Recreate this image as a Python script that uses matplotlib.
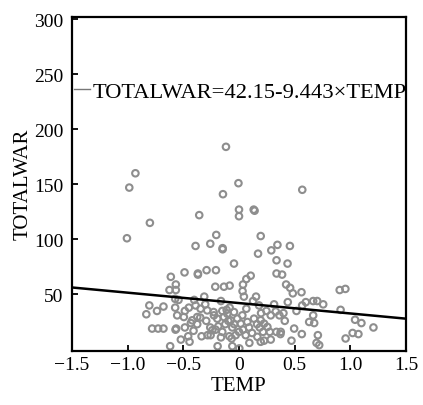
import matplotlib.pyplot as plt
from matplotlib.lines import Line2D

plt.rcParams["font.family"] = ["Liberation Serif", "DejaVu Serif"]

# scatter values
temp = [
    -0.117, -0.93, -0.985, -0.005, 0.568, -0.144, 0.0, 0.0, 0.132, 0.14,
    -0.357, -0.80, -1.006, 0.195, -0.204, -0.39, -0.258, -0.147, -0.147, 0.345,
    0.457, 0.29, 0.171, 0.337, -0.045, 0.436, -0.489, -0.369, -0.369, -0.291,
    -0.207, -0.612, 0.337, 0.387, 0.105, 0.066, 0.036, -0.213, -0.135, -0.084,
    -0.567, -0.624, -0.567, 0.423, 0.459, 0.483, 0.561, 0.032, 0.044, 0.904,
    0.955, -0.573, -0.543, -0.805, -0.678, -0.736, -0.832, -0.573, -0.486, -0.45,
    -0.402, -0.39, -0.312, -0.303, -0.228, -0.162, -0.15, -0.111, -0.084, -0.045,
    0.03, 0.066, 0.126, 0.153, 0.18, 0.198, 0.246, 0.315, 0.363, 0.399,
    0.438, 0.516, 0.567, 0.6, 0.666, 0.702, 0.756, 0.666, 0.63, 0.675,
    0.912, 1.042, 1.099, 1.207, -0.78, -0.726, -0.678, -0.564, -0.57, -0.486,
    -0.432, -0.408, -0.375, -0.348, -0.294, -0.258, -0.21, -0.186, -0.123, -0.096,
    -0.06, -0.042, 0.0, 0.036, 0.09, 0.117, 0.162, 0.186, 0.216, 0.276,
    0.336, 0.372, 0.411, 0.471, 0.564, 0.708, 0.696, 0.72, 0.957, 1.02,
    1.072, -0.456, -0.522, -0.618, -0.336, -0.282, -0.192, -0.162, -0.087, -0.066,
    -0.06, 0.003, 0.093, 0.225, 0.285, -0.444, -0.345, -0.285, -0.225, -0.195,
    -0.135, -0.105, -0.075, -0.015, 0.015, 0.075, 0.135, 0.195, 0.225, 0.255,
    0.285, 0.33, 0.375, 0.495, -0.375, -0.42, -0.24, -0.15, -0.03, 0.06,
    0.165, 0.195, -0.255, -0.555, -0.495,
]
totalwar = [
    184, 160, 147, 151, 145, 141, 127, 121, 127, 126,
    122, 115, 101, 103, 104, 94, 96, 92, 91, 95,
    94, 90, 87, 81, 78, 78, 70, 69, 68, 72,
    72, 66, 69, 68, 67, 64, 59, 57, 57, 58,
    59, 54, 54, 59, 56, 51, 52, 53, 48, 54,
    55, 46, 45, 40, 39, 35, 32, 38, 35, 38,
    45, 40, 48, 41, 34, 44, 35, 36, 38, 34,
    31, 37, 44, 48, 40, 33, 35, 41, 31, 33,
    43, 35, 40, 43, 44, 44, 41, 31, 25, 24,
    36, 27, 24, 20, 19, 19, 19, 19, 18, 20,
    24, 17, 23, 29, 26, 20, 18, 21, 23, 26,
    20, 23, 16, 18, 20, 15, 23, 20, 16, 16,
    16, 14, 26, 8, 14, 13, 6, 4, 10, 15,
    14, 12, 9, 3, 12, 13, 3, 11, 12, 10,
    3, 1, 6, 8, 9, 7, 37, 35.5, 31, 28,
    29.5, 32.5, 26.5, 28, 23.5, 25, 28, 26.5, 23.5, 20.5,
    31, 34.5, 16, 19, 29.5, 26.5, 17.5, 16, 13, 13,
    11.5, 7, 13, 31, 29.5,
]

intercept = 42.15
slope = -9.443
fit_x = [-1.5, 1.5]
fit_y = [intercept + slope * v for v in fit_x]

fig = plt.figure(figsize=(4.23, 4.06), dpi=100)
ax = fig.add_axes([0.170, 0.134, 0.790, 0.822])

ax.scatter(temp, totalwar, s=22, facecolors="none", edgecolors="#8e8e8e",
           linewidths=1.5, zorder=2)
ax.plot(fit_x, fit_y, color="black", linewidth=1.8, zorder=3)

ax.set_xlim(-1.5, 1.5)
ax.set_ylim(-1, 302)
ax.set_xticks([-1.5, -1.0, -0.5, 0, 0.5, 1.0, 1.5])
ax.set_xticklabels(["\u22121.5", "\u22121.0", "\u22120.5", "0", "0.5", "1.0", "1.5"])
ax.set_yticks([50, 100, 150, 200, 250, 300])
ax.tick_params(direction="in", length=4, width=1.3, labelsize=14)
ax.tick_params(axis="y", pad=6)
ax.tick_params(axis="x", pad=4)
for sp in ax.spines.values():
    sp.set_linewidth(1.6)

ax.set_xlabel("TEMP", fontsize=15, labelpad=2)
ax.set_ylabel("TOTALWAR", fontsize=15, labelpad=1)

handle = Line2D([], [], color="#777777", linewidth=1.0)
ax.legend([handle], ["TOTALWAR=42.15-9.443\u00d7TEMP"], loc="center left",
          bbox_to_anchor=(0.005, 0.775), frameon=False, fontsize=16.2,
          handlelength=0.75, handletextpad=0.1, borderpad=0, borderaxespad=0.0)

fig.savefig("out.png", dpi=100)
